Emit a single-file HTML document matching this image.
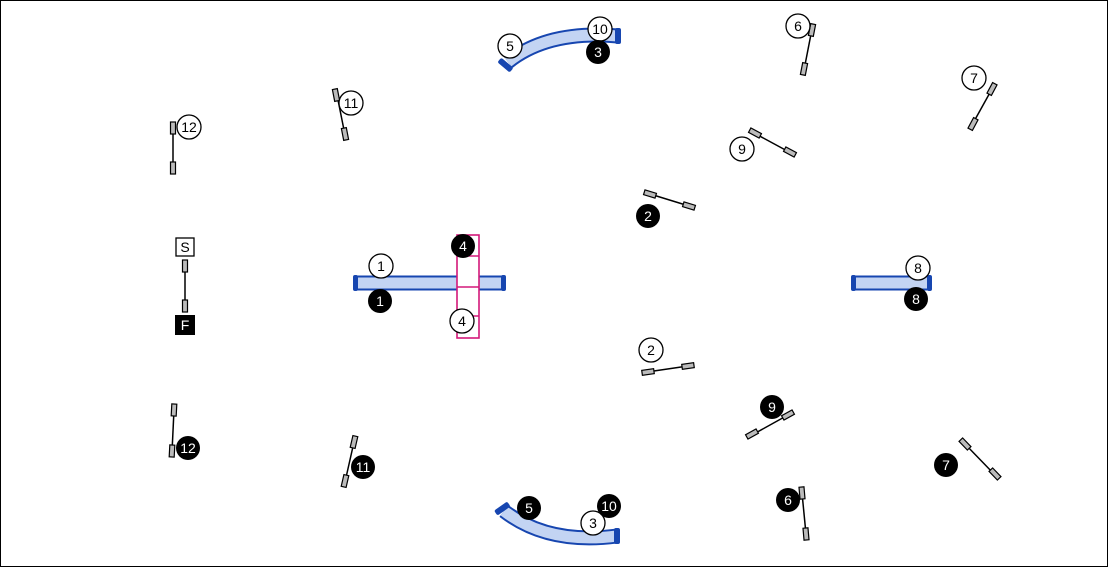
<!DOCTYPE html>
<html><head><meta charset="utf-8"><style>
html,body{margin:0;padding:0;background:#fff}
svg{display:block}
text{font-family:"Liberation Sans",sans-serif;font-size:14px;text-anchor:middle;dominant-baseline:central}
</style></head><body>
<svg width="1108" height="567" viewBox="0 0 1108 567">
<defs>
<g id="w"><rect x="-2.5" y="-6" width="5" height="12" fill="#bbb" stroke="#000" stroke-width="1.2"/></g>
</defs>
<rect x="0.5" y="0.5" width="1107" height="566" fill="#fff" stroke="#000"/>

<g fill="none" stroke-linecap="butt">
<path d="M508 62 Q548 30 618 36" stroke="#1746b0" stroke-width="15"/>
<path d="M508 62 Q548 30 618 36" stroke="#c3d4f3" stroke-width="11"/>
<path d="M504 511 Q548 545 617 536" stroke="#1746b0" stroke-width="15"/>
<path d="M504 511 Q548 545 617 536" stroke="#c3d4f3" stroke-width="11"/>
<line x1="357" y1="283" x2="503" y2="283" stroke="#1746b0" stroke-width="15"/>
<line x1="357" y1="283" x2="503" y2="283" stroke="#c3d4f3" stroke-width="11"/>
<line x1="855" y1="283" x2="929" y2="283" stroke="#1746b0" stroke-width="15"/>
<line x1="855" y1="283" x2="929" y2="283" stroke="#c3d4f3" stroke-width="11"/>
</g>
<g fill="#1746b0">
<rect x="353" y="275" width="5" height="16" rx="2"/><rect x="501" y="275" width="5" height="16" rx="2"/>
<rect x="851" y="275" width="5" height="16" rx="2"/><rect x="927" y="275" width="5" height="16" rx="2"/>
<rect x="615" y="28" width="6" height="16" rx="2"/>
<rect x="614" y="528" width="6" height="16" rx="2"/>
<rect x="501" y="54" width="6" height="16" rx="2" transform="rotate(-50 508 62)"/>
<rect x="498" y="503" width="6" height="16" rx="2" transform="rotate(55 504 511)"/>
</g>

<rect x="457" y="235" width="22" height="103" fill="#fff" stroke="#d4187a" stroke-width="1.6"/>
<line x1="457" y1="256" x2="479" y2="256" stroke="#d4187a" stroke-width="1.6"/>
<line x1="457" y1="287" x2="479" y2="287" stroke="#d4187a" stroke-width="1.6"/>
<line x1="457" y1="316" x2="479" y2="316" stroke="#d4187a" stroke-width="1.6"/>

<g stroke="#000" stroke-width="1.5">
<line x1="173" y1="128" x2="173" y2="169"/>
<line x1="185" y1="266" x2="185" y2="307"/>
<line x1="337" y1="95" x2="345" y2="135"/>
<line x1="812" y1="29" x2="804" y2="70"/>
<line x1="992" y1="89" x2="972" y2="125"/>
<line x1="754" y1="133" x2="791" y2="153"/>
<line x1="650" y1="194" x2="689" y2="206"/>
<line x1="647" y1="372" x2="688" y2="366"/>
<line x1="752" y1="435" x2="788" y2="415"/>
<line x1="965" y1="444" x2="995" y2="475"/>
<line x1="802" y1="493" x2="806" y2="534"/>
<line x1="174" y1="410" x2="172" y2="452"/>
<line x1="354" y1="442" x2="345" y2="482"/>
</g>
<use href="#w" transform="translate(173,128)"/><use href="#w" transform="translate(173,168)"/>
<use href="#w" transform="translate(185,266)"/><use href="#w" transform="translate(185,306)"/>
<use href="#w" transform="translate(336,95) rotate(-11)"/><use href="#w" transform="translate(345,134) rotate(-11)"/>
<use href="#w" transform="translate(812,30) rotate(11)"/><use href="#w" transform="translate(804,69) rotate(11)"/>
<use href="#w" transform="translate(992,89) rotate(28)"/><use href="#w" transform="translate(973,124) rotate(28)"/>
<use href="#w" transform="translate(755,133) rotate(-62)"/><use href="#w" transform="translate(790,152) rotate(-62)"/>
<use href="#w" transform="translate(650,194) rotate(-73)"/><use href="#w" transform="translate(689,206) rotate(-73)"/>
<use href="#w" transform="translate(648,372) rotate(82)"/><use href="#w" transform="translate(688,366) rotate(82)"/>
<use href="#w" transform="translate(752,434) rotate(61)"/><use href="#w" transform="translate(788,415) rotate(61)"/>
<use href="#w" transform="translate(965,444) rotate(-44)"/><use href="#w" transform="translate(995,474) rotate(-44)"/>
<use href="#w" transform="translate(802,493) rotate(-5)"/><use href="#w" transform="translate(806,534) rotate(-5)"/>
<use href="#w" transform="translate(174,410) rotate(3)"/><use href="#w" transform="translate(172,451) rotate(3)"/>
<use href="#w" transform="translate(354,442) rotate(13)"/><use href="#w" transform="translate(345,481) rotate(13)"/>

<rect x="176" y="238" width="18" height="18" fill="#fff" stroke="#000" stroke-width="1.3"/>
<text x="185" y="247" fill="#000">S</text>
<rect x="175" y="315" width="20" height="20" fill="#000"/>
<text x="185" y="325" fill="#fff">F</text>

<g fill="#fff" stroke="#000" stroke-width="1.3">
<circle cx="189" cy="127" r="12"/><circle cx="351" cy="103" r="12"/><circle cx="798" cy="26" r="12"/>
<circle cx="974" cy="78" r="12"/><circle cx="742" cy="149" r="12"/><circle cx="651" cy="350" r="12"/>
<circle cx="381" cy="266" r="12"/><circle cx="918" cy="268" r="12"/><circle cx="462" cy="321" r="12"/>
<circle cx="510" cy="46" r="12"/><circle cx="600" cy="29" r="12"/><circle cx="593" cy="523" r="12"/>
</g>
<g fill="#000">
<text x="189" y="127">12</text><text x="351" y="103">11</text><text x="798" y="26">6</text>
<text x="974" y="78">7</text><text x="742" y="149">9</text><text x="651" y="350">2</text>
<text x="381" y="266">1</text><text x="918" y="268">8</text><text x="462" y="321">4</text>
<text x="510" y="46">5</text><text x="600" y="29">10</text><text x="593" y="523">3</text>
</g>
<g fill="#000">
<circle cx="598" cy="52" r="12"/><circle cx="648" cy="216" r="12"/><circle cx="463" cy="246" r="12"/>
<circle cx="380" cy="301" r="12"/><circle cx="916" cy="299" r="12"/><circle cx="772" cy="407" r="12"/>
<circle cx="946" cy="465" r="12"/><circle cx="788" cy="500" r="12"/><circle cx="188" cy="448" r="12"/>
<circle cx="363" cy="467" r="12"/><circle cx="529" cy="508" r="12"/><circle cx="609" cy="506" r="12"/>
</g>
<g fill="#fff">
<text x="598" y="52">3</text><text x="648" y="216">2</text><text x="463" y="246">4</text>
<text x="380" y="301">1</text><text x="916" y="299">8</text><text x="772" y="407">9</text>
<text x="946" y="465">7</text><text x="788" y="500">6</text><text x="188" y="448">12</text>
<text x="363" y="467">11</text><text x="529" y="508">5</text><text x="609" y="506">10</text>
</g>
</svg>
</body></html>
